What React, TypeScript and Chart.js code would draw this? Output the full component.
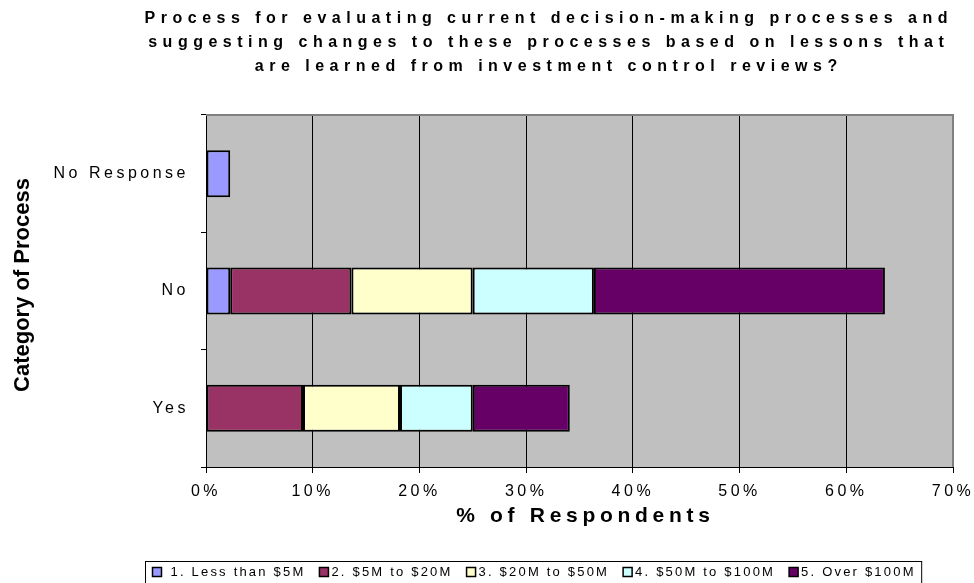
import React, { useEffect, useRef } from 'react';
import { Chart, registerables } from 'chart.js';

Chart.register(...registerables);

// ---------- data ----------
const categories = ['No Response', 'No', 'Yes'];
const seriesNames = [
  '1. Less than $5M',
  '2. $5M to $20M',
  '3. $20M to $50M',
  '4. $50M to $100M',
  '5. Over $100M',
];
const lessThan5M = [2.27, 2.27, null];
const from5MTo20M = [null, 11.36, 9.09];
const from20MTo50M = [null, 11.36, 9.09];
const from50MTo100M = [null, 11.36, 6.82];
const over100M = [null, 27.27, 9.09];
const seriesColors = ['#9999FF', '#993366', '#FFFFCC', '#CCFFFF', '#660066'];
const xMin = 0;
const xMax = 70;
const xStep = 10;
const titleLines = [
  'Process for evaluating current decision-making processes and',
  'suggesting changes to these processes based on lessons that',
  'are learned from investment control reviews?',
];
const xAxisTitle = '% of Respondents';
const yAxisTitle = 'Category of Process';

// ---------- styling / layout ----------
const FONT = '"Liberation Sans", Arial, Helvetica, sans-serif';
const W = 974;
const H = 583;
const TICK_SPACING = '3.5px';

const decorPlugin = {
  id: 'decor',
  beforeUpdate(chart: any) {
    chart.ctx.letterSpacing = TICK_SPACING;
  },
  beforeDraw(chart: any) {
    const { ctx, chartArea: a, width, height } = chart;
    ctx.save();
    ctx.fillStyle = '#ffffff';
    ctx.fillRect(0, 0, width, height);
    ctx.fillStyle = '#C0C0C0';
    ctx.fillRect(a.left, a.top, a.right - a.left, a.bottom - a.top);
    ctx.restore();
    ctx.letterSpacing = TICK_SPACING;
  },
  afterDraw(chart: any) {
    const { ctx, chartArea: a } = chart;
    ctx.save();
    // plot-area border (top and right, grey)
    ctx.strokeStyle = '#808080';
    ctx.lineWidth = 2;
    ctx.beginPath();
    ctx.moveTo(a.left, a.top);
    ctx.lineTo(a.right, a.top);
    ctx.lineTo(a.right, a.bottom);
    ctx.stroke();

    ctx.fillStyle = '#000';
    ctx.textBaseline = 'middle';

    // main title
    ctx.textAlign = 'center';
    ctx.font = `bold 16px ${FONT}`;
    ctx.letterSpacing = '5.5px';
    titleLines.forEach((line, i) => {
      ctx.fillText(line, 546 + 2.75, 19 + i * 24);
    });

    // x axis title
    ctx.font = `bold 21px ${FONT}`;
    ctx.letterSpacing = '4.7px';
    ctx.fillText(xAxisTitle, 583 + 2.35, 516);

    // y axis title
    ctx.letterSpacing = '0px';
    ctx.font = `bold 22px ${FONT}`;
    ctx.save();
    ctx.translate(23, 285);
    ctx.rotate(-Math.PI / 2);
    ctx.fillText(yAxisTitle, 0, 0);
    ctx.restore();

    // legend
    ctx.font = `13px ${FONT}`;
    ctx.letterSpacing = '2.2px';
    ctx.textAlign = 'left';
    const sw = 9;
    const gapAfterBox = (i: number) => (i === 0 ? 9 : 3);
    const gapItem = 14;
    const widths = seriesNames.map((n) => ctx.measureText(n).width);
    let total = 7 + 6;
    widths.forEach((w, i) => {
      total += sw + gapAfterBox(i) + w + (i < widths.length - 1 ? gapItem : 0);
    });
    const cx = 533;
    const left = Math.round(cx - total / 2) + 0.5;
    const top = 561.5;
    ctx.strokeStyle = '#000';
    ctx.lineWidth = 1;
    ctx.strokeRect(left, top, total, 24);
    let x = left + 7;
    const yMid = 572;
    seriesNames.forEach((n, i) => {
      ctx.fillStyle = seriesColors[i];
      ctx.fillRect(x, yMid - sw / 2, sw, sw);
      ctx.strokeStyle = '#000';
      ctx.lineWidth = 1.5;
      ctx.strokeRect(x, yMid - sw / 2, sw, sw);
      ctx.fillStyle = '#000';
      ctx.fillText(n, x + sw + gapAfterBox(i), yMid + 0.5);
      x += sw + gapAfterBox(i) + widths[i] + gapItem;
    });
    ctx.restore();
    ctx.letterSpacing = TICK_SPACING;
  },
};

const seriesData = [lessThan5M, from5MTo20M, from20MTo50M, from50MTo100M, over100M];

export default function App() {
  const canvasRef = useRef<HTMLCanvasElement | null>(null);

  useEffect(() => {
    document.body.style.margin = '0';
    const canvas = canvasRef.current;
    if (!canvas) return;
    Chart.defaults.font.family = FONT;
    Chart.defaults.color = '#000';

    const chart = new Chart(canvas, {
      type: 'bar',
      data: {
        labels: categories,
        datasets: seriesNames.map((name, i) => ({
          label: name,
          data: seriesData[i],
          backgroundColor: seriesColors[i],
          borderColor: '#000000',
          borderWidth: 2,
          borderSkipped: false,
          barPercentage: 0.4,
          categoryPercentage: 1,
        })),
      },
      options: {
        indexAxis: 'y',
        responsive: false,
        animation: false,
        devicePixelRatio: 1,
        layout: {
          padding: { top: 115, left: 0, right: 21, bottom: 56 },
        },
        plugins: {
          legend: { display: false },
          title: { display: false },
          tooltip: { enabled: false },
        },
        scales: {
          x: {
            stacked: true,
            min: xMin,
            max: xMax,
            afterFit: (scale: any) => {
              scale.height = 60;
              scale.paddingLeft = 0;
              scale.paddingRight = 0;
            },
            ticks: {
              stepSize: xStep,
              font: { size: 16 },
              color: '#000',
              padding: 9,
              callback: (v: any) => `${v}%`,
            },
            grid: {
              color: (c: any) =>
                c.tick && (c.tick.value === xMin || c.tick.value === xMax) ? 'rgba(0,0,0,0)' : '#000000',
              tickColor: '#000000',
              tickLength: 6,
              lineWidth: 1,
            },
            border: { display: true, color: '#000000', width: 1 },
          },
          y: {
            stacked: true,
            afterFit: (scale: any) => {
              scale.width = 206;
              scale.paddingTop = 0;
              scale.paddingBottom = 0;
            },
            ticks: {
              font: { size: 16 },
              color: '#000',
              padding: 12,
            },
            grid: {
              offset: true,
              drawOnChartArea: false,
              drawTicks: true,
              tickLength: 5,
              tickColor: '#000000',
            },
            border: { display: true, color: '#000000', width: 1 },
          },
        },
      },
      plugins: [decorPlugin],
    });
    return () => chart.destroy();
  }, []);

  return (
    <div style={{ width: W, height: H, position: 'relative' }}>
      <canvas ref={canvasRef} width={W} height={H} style={{ width: W, height: H, display: 'block' }} />
    </div>
  );
}
